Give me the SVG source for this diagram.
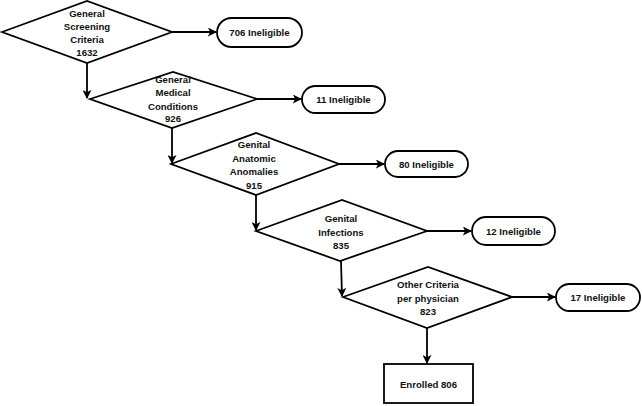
<svg xmlns="http://www.w3.org/2000/svg" width="642" height="406" viewBox="0 0 642 406">
<defs>
<marker id="arr" viewBox="0 0 10 10" refX="9" refY="5" markerWidth="5" markerHeight="5" orient="auto" markerUnits="strokeWidth">
<path d="M0,0 L10,5 L0,10 L2.5,5 z" fill="#000"/>
</marker>
<style>
.shape{fill:#fff;stroke:#000;stroke-width:1.8;stroke-linejoin:miter}
.t{font-family:"Liberation Sans",Arial,sans-serif;font-size:9.6px;font-weight:bold;text-anchor:middle;fill:#111}
.c{fill:none;stroke:#000;stroke-width:1.8;marker-end:url(#arr)}
</style>
</defs>
<rect width="642" height="406" fill="#fff"/>
<g id="connectors">
<line class="c" x1="172" y1="32" x2="216" y2="32"/>
<line class="c" x1="87" y1="63" x2="87" y2="98"/>
<line class="c" x1="257" y1="99" x2="301" y2="99"/>
<line class="c" x1="172" y1="128" x2="172" y2="163"/>
<line class="c" x1="339" y1="164" x2="384" y2="164"/>
<line class="c" x1="256" y1="195" x2="256" y2="230"/>
<line class="c" x1="427" y1="231" x2="471" y2="231"/>
<line class="c" x1="341" y1="261" x2="342" y2="296"/>
<line class="c" x1="512" y1="297" x2="555" y2="297"/>
<line class="c" x1="427" y1="328" x2="427" y2="363"/>
</g>
<g id="d1">
<polygon class="shape" points="2,32 87,1 172,32 87,63"/>
<text class="t" x="87" y="16.5">General</text>
<text class="t" x="87" y="29.5">Screening</text>
<text class="t" x="87" y="42.5">Criteria</text>
<text class="t" x="87" y="55.5">1632</text>
</g>
<g id="p1">
<rect class="shape" x="217" y="18" width="85" height="29" rx="14.5"/>
<text class="t" x="259.5" y="35.5">706 Ineligible</text>
</g>
<g id="d2">
<polygon class="shape" points="90,99 173,72 257,99 172,128"/>
<text class="t" x="173" y="83">General</text>
<text class="t" x="173" y="96">Medical</text>
<text class="t" x="173" y="109.5">Conditions</text>
<text class="t" x="173" y="122">926</text>
</g>
<g id="p2">
<rect class="shape" x="302" y="86" width="83" height="27" rx="13.5"/>
<text class="t" x="343.5" y="102.5">11 Ineligible</text>
</g>
<g id="d3">
<polygon class="shape" points="171,164 256,133 339,164 256,195"/>
<text class="t" x="254" y="148">Genital</text>
<text class="t" x="254" y="161.5">Anatomic</text>
<text class="t" x="254" y="175">Anomalies</text>
<text class="t" x="254" y="188.5">915</text>
</g>
<g id="p3">
<rect class="shape" x="385" y="151" width="83" height="26" rx="13"/>
<text class="t" x="426.5" y="167.5">80 Ineligible</text>
</g>
<g id="d4">
<polygon class="shape" points="256,231 342,200 427,231 340,261"/>
<text class="t" x="341" y="222">Genital</text>
<text class="t" x="341" y="235.5">Infections</text>
<text class="t" x="341" y="248.5">835</text>
</g>
<g id="p4">
<rect class="shape" x="472" y="217" width="83" height="28" rx="14"/>
<text class="t" x="513.5" y="234.5">12 Ineligible</text>
</g>
<g id="d5">
<polygon class="shape" points="343,297 428,267 512,297 427,328"/>
<text class="t" x="428" y="288">Other Criteria</text>
<text class="t" x="428" y="301.5">per physician</text>
<text class="t" x="428" y="315">823</text>
</g>
<g id="p5">
<rect class="shape" x="556" y="284" width="84" height="27" rx="13.5"/>
<text class="t" x="598" y="300.5">17 Ineligible</text>
</g>
<g id="enrolled">
<rect class="shape" x="384" y="364" width="89" height="39"/>
<text class="t" x="428.5" y="387.5">Enrolled 806</text>
</g>
</svg>
